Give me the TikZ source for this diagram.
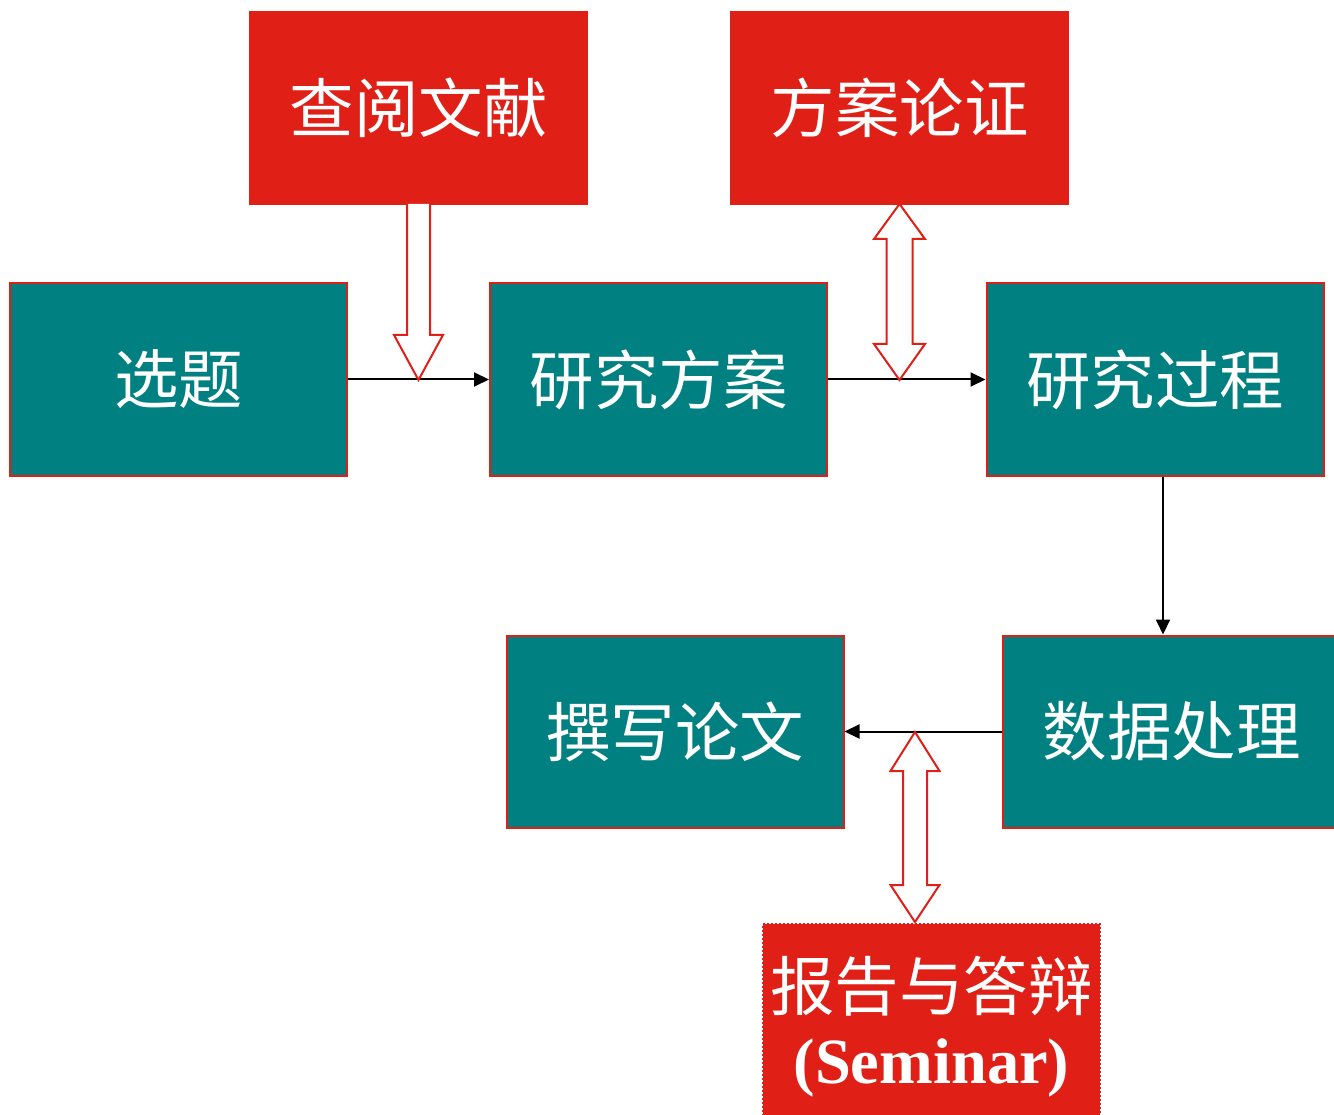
\documentclass[tikz,border=0pt]{standalone}
\usepackage{fontspec}
\setmainfont{Liberation Serif}
\newfontfamily\cjk{Noto Sans CJK SC}
\usetikzlibrary{arrows.meta}
\definecolor{rd}{HTML}{E01F16}
\definecolor{tl}{HTML}{008080}
\begin{document}
\begin{tikzpicture}[x=1pt,y=-1pt,
  box/.style={draw=rd, line width=2pt, minimum width=337pt, minimum height=192pt,
    inner sep=0pt, text=white, font=\cjk\fontsize{64.5}{78}\selectfont},
  tealbox/.style={box, fill=tl},
  redbox/.style={box, fill=rd},
  flow/.style={-{Triangle[length=15pt,width=14pt]}, line width=2pt, black},
  hollow/.style={draw=rd, line width=2pt, fill=white, line join=miter}]
\useasboundingbox (0,0) rectangle (1334,1115);
\clip (0,0) rectangle (1334,1115);
% nodes
\node[redbox] (lit) at (418.5,108) {查阅文献};
\node[redbox] (arg) at (899.5,108) {方案论证};
\node[tealbox] (topic) at (178.5,379.5) {选题};
\node[tealbox] (plan) at (658.5,379.5) {研究方案};
\node[tealbox] (proc) at (1155,379.5) {研究过程};
\node[tealbox] (data) at (1171.5,731.5) {数据处理};
\node[tealbox] (write) at (675,731.5) {撰写论文};
\node[redbox, dash pattern=on 2pt off 2pt, align=center, text depth=0pt] (sem) at (931.5,1020)
  {\raisebox{-5pt}{报告与答辩}\\{\rmfamily\bfseries (Seminar)}};
% connectors
\draw[flow] (topic.east) -- (plan.west);
\draw[flow] (plan.east) -- (proc.west);
\draw[flow] ([xshift=8pt]proc.south) -- ([xshift=-8.5pt]data.north);
\draw[flow] (data.west) -- (write.east);
% hollow arrows
\filldraw[hollow] (407,204) -- (407,335) -- (394,335) -- (418.5,380) -- (443,335) -- (430,335) -- (430,204);
\filldraw[hollow] (899.5,204) -- (925,239) -- (912.5,239) -- (912.5,344) -- (925,344) -- (899.5,380)
  -- (874,344) -- (886.5,344) -- (886.5,239) -- (874,239) -- cycle;
\filldraw[hollow] (915,732) -- (939.5,771) -- (927,771) -- (927,885) -- (939.5,885) -- (915,922)
  -- (890.5,885) -- (903,885) -- (903,771) -- (890.5,771) -- cycle;
\end{tikzpicture}
\end{document}
